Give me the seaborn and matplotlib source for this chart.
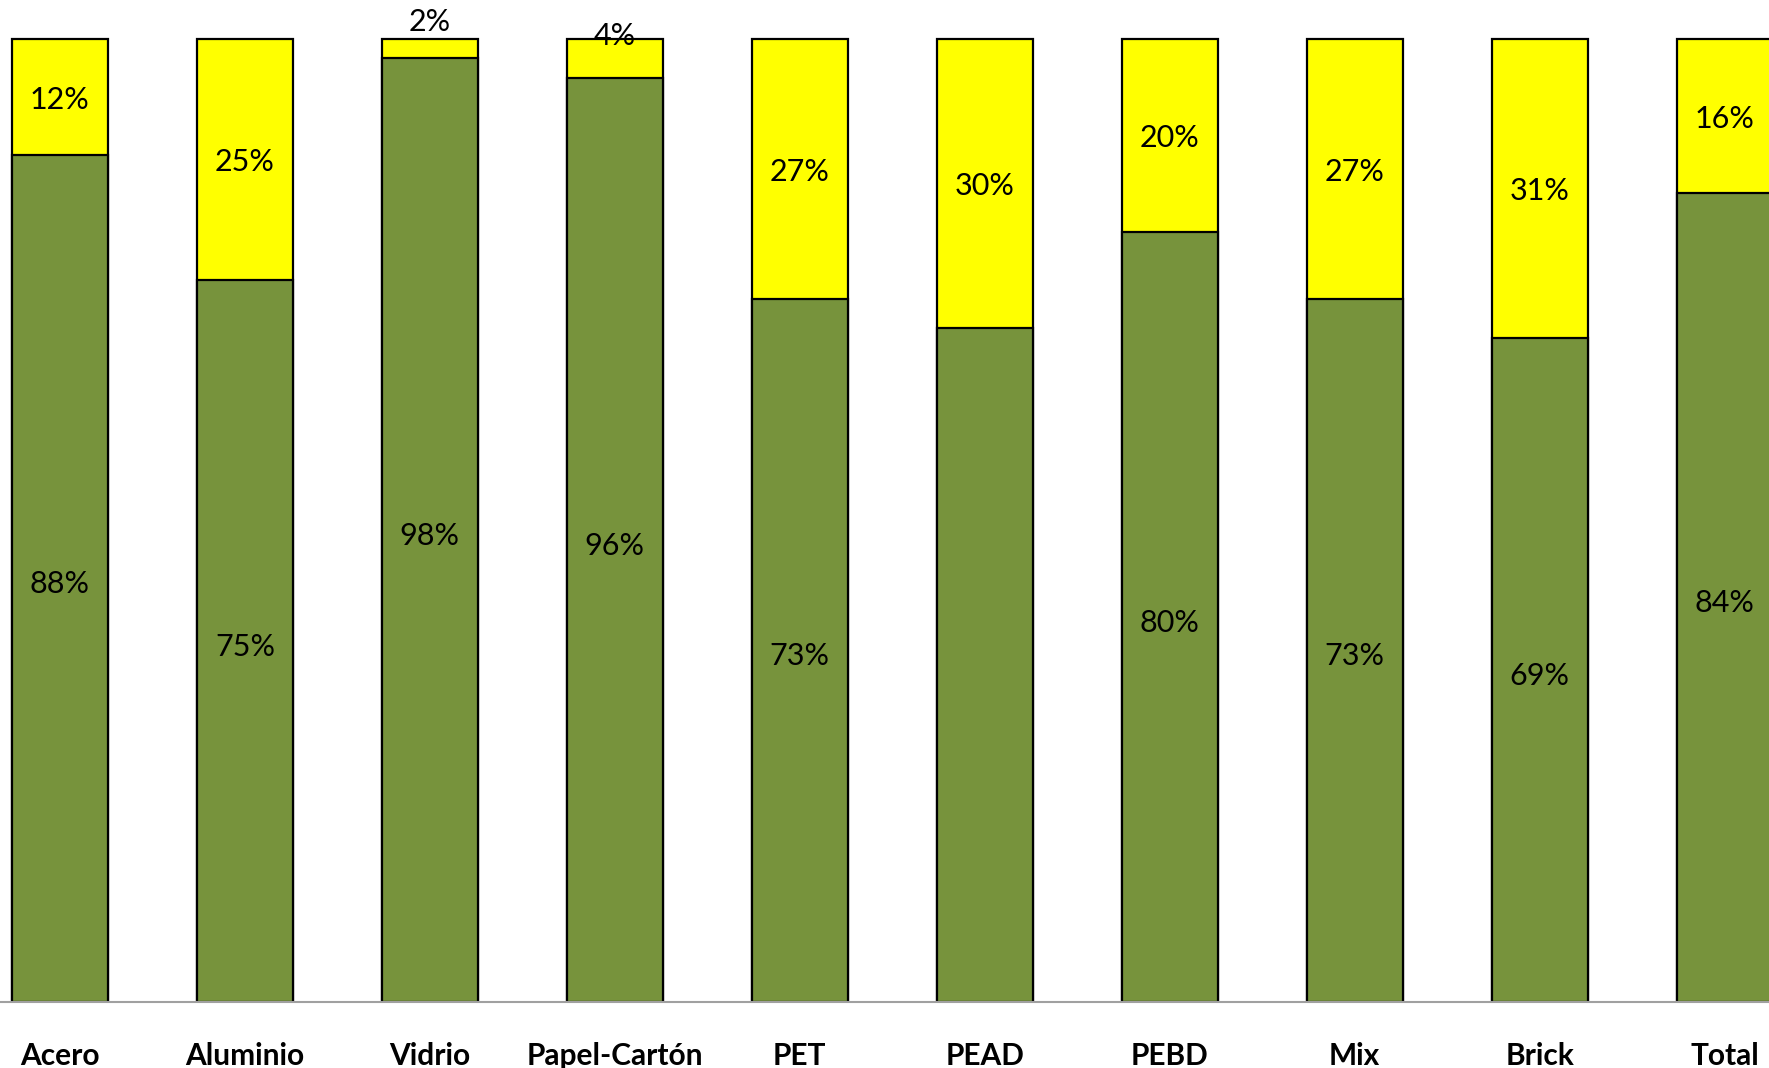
import pandas as pd
import seaborn as sns
import matplotlib.pyplot as plt

# Données
categorias = ['Acero', 'Aluminio', 'Vidrio', 'Papel-Cartón', 'PET',
              'PEAD', 'PEBD', 'Mix', 'Brick', 'Total']
verde = [88, 75, 98, 96, 73, 70, 80, 73, 69, 84]
amarillo = [12, 25, 2, 4, 27, 30, 20, 27, 31, 16]
etiquetas_verde = ['88%', '75%', '98%', '96%', '73%', '', '80%', '73%', '69%', '84%']
etiquetas_amarillo = ['12%', '25%', '2%', '4%', '27%', '30%', '20%', '27%', '31%', '16%']

df = pd.DataFrame({'cat': categorias, 'verde': verde, 'amarillo': amarillo})
df['total'] = df['verde'] + df['amarillo']

sns.set_style('white')
plt.rcParams['font.family'] = ['Lato', 'DejaVu Sans']

fig = plt.figure(figsize=(17.69, 10.68), dpi=100)
ax = fig.add_axes([0, 1 - 1002 / 1068, 1, 1002 / 1068])

sns.barplot(data=df, x='cat', y='total', color='#FFFF00', saturation=1,
            width=0.52, edgecolor='black', linewidth=1.6, ax=ax)
sns.barplot(data=df, x='cat', y='verde', color='#77933C', saturation=1,
            width=0.52, edgecolor='black', linewidth=1.6, ax=ax)

# Etiquetas
for i in range(len(categorias)):
    g = verde[i]
    a = amarillo[i]
    if etiquetas_verde[i]:
        ax.text(i, g / 2 - 0.6, etiquetas_verde[i], ha='center', va='center',
                fontsize=22, color='black')
    if a >= 5:
        ax.text(i, g + a / 2 - 0.3, etiquetas_amarillo[i], ha='center', va='center',
                fontsize=22, color='black')
    else:
        # segmentos pequeños: etiqueta encima de la barra
        ax.annotate(etiquetas_amarillo[i], (i, g + a), xytext=(0, 2 if a < 3 else -8),
                    textcoords='offset points', ha='center', va='bottom',
                    fontsize=22, color='black')

ax.set_xlim(-0.324, 9.24)
ax.set_ylim(0, 104.05)
ax.set_xlabel('')
ax.set_ylabel('')
ax.set_yticks([])
ax.tick_params(axis='x', length=0, pad=29, labelsize=21.5, labelcolor='black')
for lbl in ax.get_xticklabels():
    lbl.set_fontweight('bold')

for s in ['top', 'left', 'right']:
    ax.spines[s].set_visible(False)
ax.spines['bottom'].set_color('#A0A0A0')
ax.spines['bottom'].set_linewidth(1.5)

plt.savefig('out.png', dpi=100)
